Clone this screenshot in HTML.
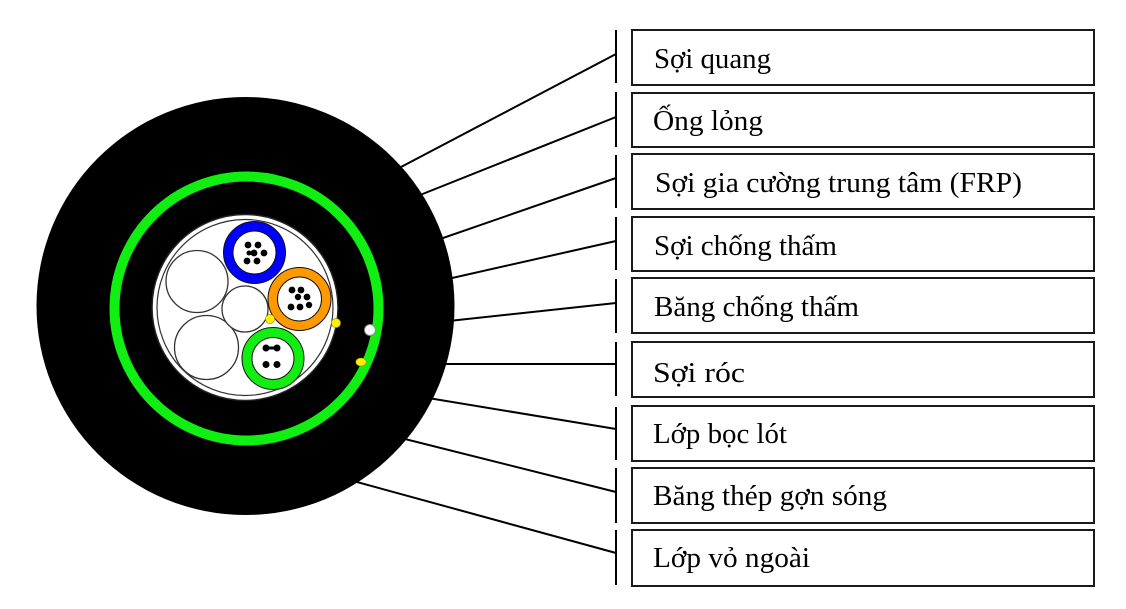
<!DOCTYPE html>
<html>
<head>
<meta charset="utf-8">
<style>
  html,body{margin:0;padding:0;background:#fff;}
  svg{display:block;}
  text{font-family:"Liberation Serif","Noto Serif CJK SC",serif;font-size:28px;fill:#000;}
</style>
</head>
<body>
<svg width="1126" height="609" viewBox="0 0 1126 609" xmlns="http://www.w3.org/2000/svg">
  <rect width="1126" height="609" fill="#fff"/>

  <!-- leader lines -->
  <g stroke="#000" stroke-width="2" fill="none">
    <line x1="380" y1="178" x2="616" y2="54"/>
    <line x1="400" y1="203" x2="616" y2="117"/>
    <line x1="420" y1="246" x2="616" y2="178"/>
    <line x1="430" y1="283" x2="616" y2="241"/>
    <line x1="430" y1="323" x2="616" y2="303"/>
    <line x1="425" y1="364" x2="616" y2="364"/>
    <line x1="410" y1="395" x2="616" y2="429"/>
    <line x1="385" y1="434" x2="616" y2="492"/>
    <line x1="335" y1="476" x2="616" y2="553"/>
  </g>

  <!-- vertical bars -->
  <g stroke="#000" stroke-width="2">
    <line x1="616" y1="30" x2="616" y2="83"/>
    <line x1="616" y1="92" x2="616" y2="147"/>
    <line x1="616" y1="155" x2="616" y2="208"/>
    <line x1="616" y1="217" x2="616" y2="270"/>
    <line x1="616" y1="279" x2="616" y2="333"/>
    <line x1="616" y1="342" x2="616" y2="396"/>
    <line x1="616" y1="407" x2="616" y2="460"/>
    <line x1="616" y1="468" x2="616" y2="523"/>
    <line x1="616" y1="530" x2="616" y2="585"/>
  </g>

  <!-- boxes -->
  <g fill="#fff" stroke="#1a1a1a" stroke-width="2">
    <rect x="632" y="30" width="462" height="55"/>
    <rect x="632" y="93" width="462" height="54"/>
    <rect x="632" y="154" width="462" height="55"/>
    <rect x="632" y="217" width="462" height="54"/>
    <rect x="632" y="278" width="462" height="55"/>
    <rect x="632" y="342" width="462" height="55"/>
    <rect x="632" y="406" width="462" height="55"/>
    <rect x="632" y="468" width="462" height="55"/>
    <rect x="632" y="530" width="462" height="56"/>
  </g>

  <!-- labels -->
  <text x="654" y="68" textLength="117" lengthAdjust="spacingAndGlyphs">Sợi quang</text>
  <text x="653" y="130" textLength="110" lengthAdjust="spacingAndGlyphs">Ống lỏng</text>
  <text x="655" y="192" textLength="367" lengthAdjust="spacingAndGlyphs">Sợi gia cường trung tâm (FRP)</text>
  <text x="654" y="255" textLength="183" lengthAdjust="spacingAndGlyphs">Sợi chống thấm</text>
  <text x="654" y="316" textLength="205" lengthAdjust="spacingAndGlyphs">Băng chống thấm</text>
  <text x="653" y="382" textLength="92" lengthAdjust="spacingAndGlyphs">Sợi róc</text>
  <text x="653" y="443" textLength="134" lengthAdjust="spacingAndGlyphs">Lớp bọc lót</text>
  <text x="653" y="505" textLength="234" lengthAdjust="spacingAndGlyphs">Băng thép gợn sóng</text>
  <text x="653" y="567" textLength="157" lengthAdjust="spacingAndGlyphs">Lớp vỏ ngoài</text>

  <!-- cable cross-section -->
  <circle cx="245.5" cy="306" r="209" fill="#000"/>
  <circle cx="246.5" cy="308.5" r="132" fill="none" stroke="#11ee11" stroke-width="10"/>

  <!-- inner core -->
  <circle cx="245" cy="307.5" r="93" fill="#fff" stroke="#222" stroke-width="1.5"/>
  <circle cx="245" cy="307.5" r="88" fill="#fff" stroke="#333" stroke-width="1.2"/>

  <!-- filler circles -->
  <g fill="#fff" stroke="#333" stroke-width="1.3">
    <circle cx="197" cy="281.5" r="31"/>
    <circle cx="206.5" cy="347.5" r="32"/>
    <circle cx="245" cy="309" r="23"/>
  </g>

  <!-- blue tube -->
  <circle cx="254.5" cy="252.5" r="31" fill="#0000ff" stroke="#111" stroke-width="1"/>
  <circle cx="254.5" cy="252.5" r="21.5" fill="#fff" stroke="#111" stroke-width="1"/>
  <g fill="#000">
    <circle cx="248" cy="245" r="3.4"/>
    <circle cx="258" cy="245" r="3.4"/>
    <circle cx="254" cy="253" r="3.4"/>
    <circle cx="264" cy="253" r="3.4"/>
    <circle cx="247" cy="261" r="3.4"/>
    <circle cx="257" cy="261" r="3.4"/>
    <circle cx="249" cy="253" r="2.5"/>
  </g>

  <!-- orange tube -->
  <circle cx="299.5" cy="299" r="31.5" fill="#ff9900" stroke="#111" stroke-width="1"/>
  <circle cx="299.5" cy="299" r="22" fill="#fff" stroke="#111" stroke-width="1"/>
  <g fill="#000">
    <circle cx="292" cy="290" r="3.4"/>
    <circle cx="301" cy="290" r="3.4"/>
    <circle cx="298" cy="297" r="3.2"/>
    <circle cx="307" cy="297" r="3.4"/>
    <circle cx="291" cy="307" r="3.4"/>
    <circle cx="300" cy="307" r="3.4"/>
    <circle cx="309" cy="305" r="3.2"/>
  </g>

  <!-- green tube -->
  <circle cx="273" cy="358.5" r="31" fill="#11ee11" stroke="#111" stroke-width="1"/>
  <circle cx="273" cy="358.5" r="21" fill="#fff" stroke="#111" stroke-width="1"/>
  <g fill="#000">
    <circle cx="266" cy="348" r="3.5"/>
    <circle cx="277" cy="348" r="3.5"/>
    <rect x="266" y="346.5" width="11" height="3"/>
    <circle cx="266" cy="364.5" r="3.5"/>
    <circle cx="277" cy="364.5" r="3.5"/>
  </g>

  <!-- ripcords / water-blocking yarns -->
  <circle cx="270" cy="319" r="4.6" fill="#ffee00" stroke="#998800" stroke-width="0.6"/>
  <circle cx="336" cy="323" r="4.6" fill="#ffee00" stroke="#998800" stroke-width="0.6"/>
  <ellipse cx="361" cy="362" rx="5.2" ry="4" fill="#ffee00" stroke="#998800" stroke-width="0.6"/>
  <circle cx="370" cy="330" r="5.5" fill="#fff" stroke="#888" stroke-width="1"/>
</svg>
</body>
</html>
